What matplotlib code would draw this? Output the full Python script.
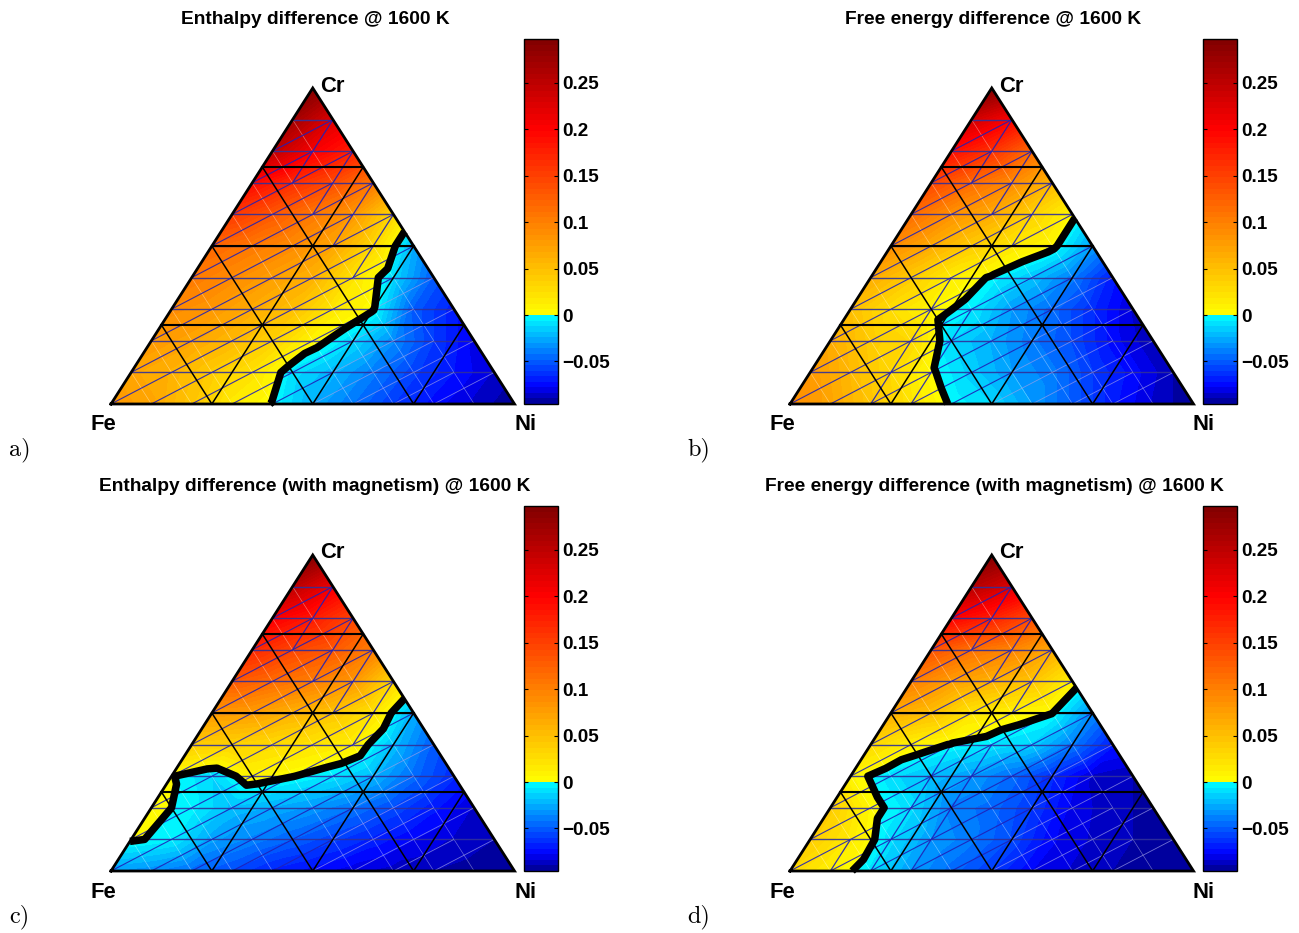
import numpy as np
import matplotlib
matplotlib.use("Agg")
import matplotlib.pyplot as plt
import matplotlib.tri as mtri
from matplotlib.collections import LineCollection

plt.rcParams['font.family'] = ['Liberation Sans', 'DejaVu Sans']

# node values of the 10 step composition grid, bottom row (Cr=0) first, Ni rising along a row
enthalpy = [
    [.080, .070, .045, .015, -.001, -.025, -.042, -.060, -.075, -.086, -.095],
    [.070, .060, .040, .022, -.009, -.022, -.040, -.058, -.072, -.085],
    [.080, .070, .055, .035, .006, -.011, -.035, -.060, -.080],
    [.090, .080, .065, .050, .017, .001, -.050, -.070],
    [.105, .090, .075, .060, .020, -.012, -.050],
    [.120, .105, .090, .070, .030, -.025],
    [.155, .130, .105, .080, .030],
    [.195, .165, .140, .105],
    [.250, .205, .175],
    [.270, .225],
    [.295],
]
free_energy = [
    [.090, .070, .045, .020, -.002, -.012, -.030, -.050, -.070, -.085, -.095],
    [.080, .055, .030, .002, -.015, -.030, -.040, -.060, -.075, -.090],
    [.065, .040, .030, -.012, -.025, -.040, -.055, -.075, -.090],
    [.050, .025, .006, -.0055, -.030, -.045, -.065, -.085],
    [.065, .040, .012, -.002, -.018, -.040, -.070],
    [.090, .065, .040, .018, .004, -.030],
    [.115, .085, .065, .035, .004],
    [.145, .115, .090, .055],
    [.190, .160, .115],
    [.235, .200],
    [.295],
]
enthalpy_mag = [
    [-.030, -.035, -.045, -.055, -.068, -.075, -.082, -.087, -.090, -.093, -.095],
    [.002, -.004, -.028, -.038, -.048, -.058, -.068, -.078, -.085, -.090],
    [.003, -.003, -.020, -.025, -.032, -.042, -.055, -.070, -.085],
    [.001, -.012, .008, .0005, -.008, -.022, -.045, -.065],
    [.040, .035, .028, .020, .012, -.020, -.050],
    [.080, .075, .060, .045, .020, -.025],
    [.130, .115, .100, .080, .030],
    [.170, .145, .130, .100],
    [.205, .180, .145],
    [.250, .210],
    [.295],
]
free_energy_mag = [
    [.030, .010, -.0085, -.030, -.045, -.060, -.078, -.085, -.090, -.093, -.095],
    [.040, .015, -.010, -.030, -.040, -.055, -.077, -.085, -.090, -.094],
    [.040, .005, -.010, -.038, -.045, -.060, -.080, -.088, -.092],
    [.0075, -.010, -.020, -.030, -.045, -.065, -.085, -.090],
    [.030, .0092, -.001, -.007, -.0137, -.040, -.070],
    [.065, .050, .020, .008, .0003, -.035],
    [.100, .075, .060, .045, .009],
    [.135, .110, .095, .065],
    [.200, .175, .140],
    [.255, .225],
    [.295],
]

# (i, j) starts of the up-right mesh edges that show in each panel
upright_a = [(1, 8), (1, 7), (2, 7), (2, 6), (3, 6), (3, 5), (4, 5), (4, 4)]
upright_b = [(1, 8), (1, 7), (2, 7), (2, 6), (3, 6), (3, 5), (2, 0), (2, 1), (2, 2), (2, 3), (3, 0), (3, 1), (3, 2)]
upright_c = [(1, 8), (1, 7), (2, 7), (2, 6), (3, 6), (3, 5), (4, 5), (4, 4)]
upright_d = [(1, 8), (1, 7), (2, 7), (2, 6), (3, 6), (3, 5), (2, 3), (3, 3), (2, 2), (3, 2), (2, 1), (3, 1), (1, 0), (2, 0), (3, 0)]

titles = ["Enthalpy difference @ 1600 K", "Free energy difference @ 1600 K",
          "Enthalpy difference (with magnetism) @ 1600 K", "Free energy difference (with magnetism) @ 1600 K"]
panel_names = ["a)", "b)", "c)", "d)"]
panel_data = [enthalpy, free_energy, enthalpy_mag, free_energy_mag]
panel_upright = [upright_a, upright_b, upright_c, upright_d]
bar_ticks = [-0.05, 0, 0.05, 0.1, 0.15, 0.2, 0.25]
bar_labels = ["\u22120.05", "0", "0.05", "0.1", "0.15", "0.2", "0.25"]

W, H = 1299, 933
vmin, vmax = -0.0959, 0.2974
n_steps = 10

# banded colours: blue part ends in cyan at zero, warm part starts at yellow
neg_levels = np.linspace(vmin, 0, 17)
pos_levels = np.linspace(0, vmax, 49)
levels = np.concatenate([neg_levels, pos_levels[1:]])
mids = (levels[:-1] + levels[1:]) / 2
band_colors = []
for v in mids:
    if v < 0:
        if v < -0.077:
            c = (0, 0, 0.55 + 0.45 * (v - vmin) / (-0.077 - vmin))
        else:
            c = (0, (v + 0.077) / 0.077, 1)
    else:
        if v < 0.2:
            c = (1, 1 - v / 0.2, 0)
        else:
            c = (1 - 0.5 * (v - 0.2) / (vmax - 0.2), 0, 0)
    band_colors.append(c)

# lattice nodes in (i, j)
ii, jj, idx = [], [], {}
for j in range(n_steps + 1):
    for i in range(n_steps + 1 - j):
        idx[(i, j)] = len(ii)
        ii.append(i)
        jj.append(j)
ii = np.array(ii)
jj = np.array(jj)
node_x = (ii + jj / 2) / n_steps
node_y = jj / n_steps

triangles = []
for j in range(n_steps):
    for i in range(n_steps - j):
        triangles.append([idx[(i, j)], idx[(i + 1, j)], idx[(i, j + 1)]])
        if i + j + 1 < n_steps:
            triangles.append([idx[(i + 1, j)], idx[(i + 1, j + 1)], idx[(i, j + 1)]])
tri = mtri.Triangulation(node_x, node_y, triangles)


def tern(ni, cr):
    return (ni + cr / 2, cr)


def node(i, j):
    n = idx[(i, j)]
    return (node_x[n], node_y[n])


fig = plt.figure(figsize=(W / 100, H / 100), dpi=100)

lefts = [111, 790, 111, 790]
bottoms = [404, 404, 871, 871]
bar_lefts = [524, 1203, 524, 1203]
title_x = [315, 993, 315, 994]
name_x = [9, 687, 9, 687]

for k in range(4):
    left, base = lefts[k], bottoms[k]
    ax = fig.add_axes([left / W, 1 - base / H, 403.5 / W, 316 / H])
    ax.set_xlim(0, 1)
    ax.set_ylim(0, 1)
    ax.axis('off')

    z = np.concatenate(panel_data[k])
    cf = ax.tricontourf(tri, z, levels=levels, colors=band_colors, antialiased=False)

    # thin mesh lines
    flat, shallow_dark, shallow_pale, steep = [], [], [], []
    for (i, j) in idx:
        if (i + 1, j) in idx and j > 0:
            flat.append([node(i, j), node(i + 1, j)])
        if (i + 1, j + 1) in idx:
            if i >= 5:
                shallow_pale.append([node(i, j), node(i + 1, j + 1)])
            else:
                shallow_dark.append([node(i, j), node(i + 1, j + 1)])
        if (i - 1, j + 1) in idx:
            steep.append([node(i, j), node(i - 1, j + 1)])
    upright = [[node(i, j), node(i, j + 1)] for i, j in panel_upright[k]]
    ax.add_collection(LineCollection(steep, colors='white', linewidths=0.5, alpha=0.4, zorder=3))
    ax.add_collection(LineCollection(flat, colors='#30309a', linewidths=1.0, alpha=0.9, zorder=3))
    ax.add_collection(LineCollection(shallow_dark, colors='#2020b8', linewidths=0.8, alpha=0.9, zorder=3))
    ax.add_collection(LineCollection(shallow_pale, colors='#a0a0e8', linewidths=0.6, alpha=0.7, zorder=3))
    ax.add_collection(LineCollection(upright, colors='#2020b8', linewidths=0.9, alpha=0.9, zorder=3))

    # black grid at quarter compositions
    for q in [0.25, 0.5, 0.75]:
        ax.plot([0 + q / 2, 1 - q / 2], [q, q], color='black', lw=1.5, zorder=4, clip_on=False)
        for a, b in [(tern(q, 0), tern(q, 1 - q)), (tern(1 - q, 0), tern(0, 1 - q))]:
            ax.plot([a[0], b[0]], [a[1], b[1]], color='black', lw=1.1, zorder=4, clip_on=False)

    zero = ax.tricontour(tri, z, levels=[0], colors='black', linewidths=5.4, zorder=5)
    zero.set_clip_on(False)

    ax.plot([0, 1, 0.5, 0], [0, 0, 1, 0], color='black', lw=2.0, zorder=6, clip_on=False,
            solid_joinstyle='miter')

    ax.text(0.5 + 7.5 / 403.5, 1.0 + 2 / 316, "Cr", fontsize=15.8, fontweight='bold', ha='left', va='center')
    ax.text(-20.5 / 403.5, -21 / 316, "Fe", fontsize=15.8, fontweight='bold', ha='left', va='center')
    ax.text(1 - 0.5 / 403.5, -21 / 316, "Ni", fontsize=15.8, fontweight='bold', ha='left', va='center')

    fig.text(title_x[k] / W, 1 - (base - 384) / H, titles[k], fontsize=13.75, fontweight='bold',
             ha='center', va='center')
    fig.text(name_x[k] / W, 1 - (base + 46) / H, panel_names[k], fontsize=17.5, family='cmr10',
             ha='left', va='center')

    cax = fig.add_axes([bar_lefts[k] / W, 1 - base / H, 34 / W, 365 / H])
    cb = fig.colorbar(cf, cax=cax, spacing='proportional')
    cb.set_ticks(bar_ticks)
    cb.set_ticklabels(bar_labels)
    cb.minorticks_off()
    cb.outline.set_linewidth(1.0)
    cax.tick_params(axis='y', direction='in', left=True, right=True, length=3, width=0.8, pad=3, labelsize=13.6)
    for lab in cax.get_yticklabels():
        lab.set_fontweight('bold')

fig.savefig("out.png", dpi=100)
